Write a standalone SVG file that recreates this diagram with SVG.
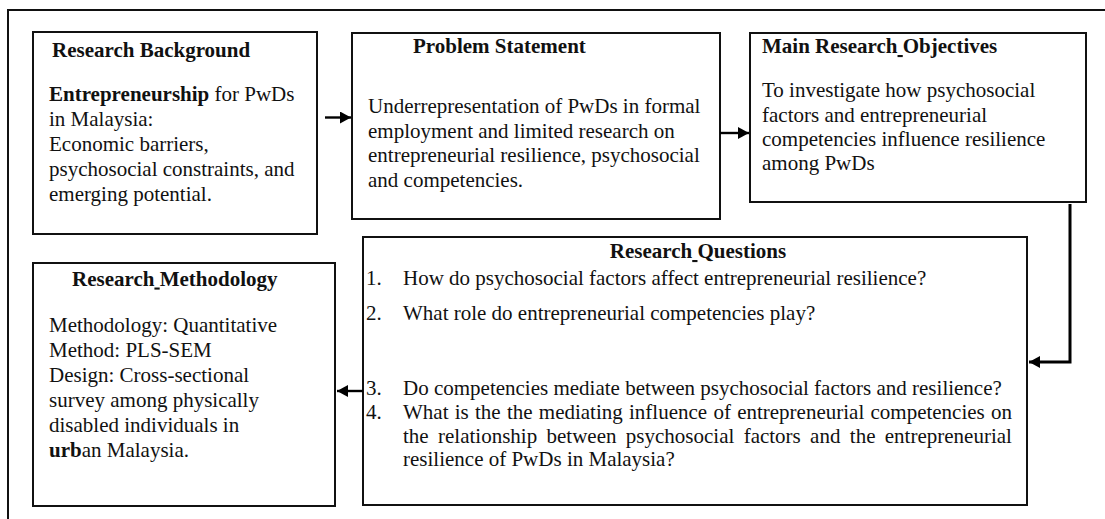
<svg xmlns="http://www.w3.org/2000/svg" width="1105" height="519" viewBox="0 0 1105 519">
<style>
.box{fill:#fff;stroke:#111;stroke-width:2}
.t{font-family:"Liberation Serif","Times New Roman",serif;font-size:21px;fill:#111}
.b{font-weight:bold}
.u{text-decoration:underline}
.con{stroke:#000;stroke-width:2.4;fill:none}
.thick{stroke-width:3}
</style>
<defs>
<marker id="ah" markerUnits="userSpaceOnUse" markerWidth="11" markerHeight="12" refX="11" refY="6" orient="auto">
<path d="M0,0 L11,6 L0,12 z" fill="#000"/>
</marker>
</defs>
<rect x="8" y="10" width="1130" height="540" fill="#fff" stroke="#111" stroke-width="2"/>

<g id="research-background">
<rect class="box" x="33" y="32" width="284" height="202"/>
<text class="t b" x="52" y="57">Research Background</text>
<text class="t" x="49" y="101"><tspan class="b">Entrepreneurship</tspan> for PwDs</text>
<text class="t" x="49" y="126">in Malaysia:</text>
<text class="t" x="49" y="151">Economic barriers,</text>
<text class="t" x="49" y="176">psychosocial constraints, and</text>
<text class="t" x="49" y="201">emerging potential.</text>
</g>

<g id="problem-statement">
<rect class="box" x="352" y="33" width="368" height="186"/>
<text class="t b" x="413" y="53">Problem Statement</text>
<text class="t" x="368" y="113">Underrepresentation of PwDs in formal</text>
<text class="t" x="368" y="137.5">employment and limited research on</text>
<text class="t" x="368" y="162">entrepreneurial resilience, psychosocial</text>
<text class="t" x="368" y="186.5">and competencies.</text>
</g>

<g id="main-research-objectives">
<rect class="box" x="750" y="33" width="336" height="169"/>
<text class="t b" x="762" y="53" xml:space="preserve">Main Research<tspan class="u"> </tspan>Objectives</text>
<text class="t" x="762" y="97">To investigate how psychosocial</text>
<text class="t" x="762" y="121.5">factors and entrepreneurial</text>
<text class="t" x="762" y="146">competencies influence resilience</text>
<text class="t" x="762" y="170">among PwDs</text>
</g>

<g id="research-questions">
<rect class="box" x="363" y="237" width="664" height="268"/>
<text class="t b" x="698" y="258" text-anchor="middle" xml:space="preserve">Research<tspan class="u"> </tspan>Questions</text>
<text class="t" x="366" y="285">1.</text>
<text class="t" x="403" y="285">How do psychosocial factors affect entrepreneurial resilience?</text>
<text class="t" x="366" y="320">2.</text>
<text class="t" x="403" y="320">What role do entrepreneurial competencies play?</text>
<text class="t" x="366" y="395">3.</text>
<text class="t" x="403" y="395">Do competencies mediate between psychosocial factors and resilience?</text>
<text class="t" x="366" y="419">4.</text>
<text class="t" x="403" y="419" word-spacing="1">What is the the mediating influence of entrepreneurial competencies on</text>
<text class="t" x="403" y="443" word-spacing="4.1">the relationship between psychosocial factors and the entrepreneurial</text>
<text class="t" x="403" y="466">resilience of PwDs in Malaysia?</text>
</g>

<g id="research-methodology">
<rect class="box" x="33" y="263" width="302" height="243"/>
<text class="t b" x="72" y="285.5" xml:space="preserve">Research<tspan class="u"> </tspan>Methodology</text>
<text class="t" x="49" y="332">Methodology: Quantitative</text>
<text class="t" x="49" y="357">Method: PLS-SEM</text>
<text class="t" x="49" y="382">Design: Cross-sectional</text>
<text class="t" x="49" y="407">survey among physically</text>
<text class="t" x="49" y="432">disabled individuals in</text>
<text class="t" x="49" y="457"><tspan class="b">urb</tspan>an Malaysia.</text>
</g>

<g id="connectors">
<line class="con" x1="325" y1="117.5" x2="351" y2="117.5" marker-end="url(#ah)"/>
<line class="con" x1="720" y1="133" x2="749" y2="133" marker-end="url(#ah)"/>
<polyline class="con thick" points="1070,204 1070,362 1029,362" marker-end="url(#ah)"/>
<line class="con" x1="363" y1="391" x2="337" y2="391" marker-end="url(#ah)"/>
</g>
</svg>
